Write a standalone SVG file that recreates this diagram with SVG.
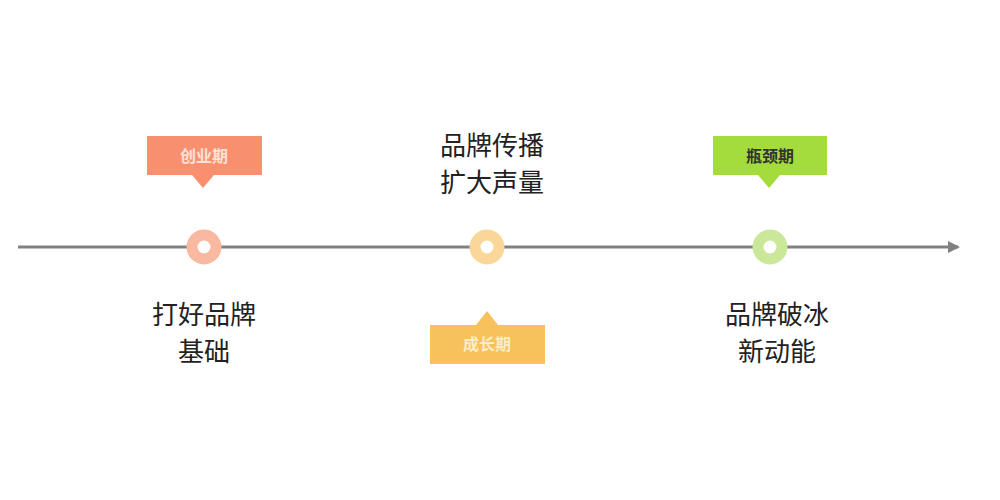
<svg xmlns="http://www.w3.org/2000/svg" width="1000" height="500" viewBox="0 0 1000 500">
<style>
.t{font-family:"Noto Sans CJK SC",sans-serif;font-size:26px;fill:#222;text-anchor:middle}
.tag{font-family:"Noto Sans CJK SC",sans-serif;font-size:16px;text-anchor:middle;font-weight:bold}
.dot{stroke-width:11;fill:#fff}
</style>
<defs><marker id="ar" markerWidth="12" markerHeight="12" refX="10" refY="6" orient="auto" markerUnits="userSpaceOnUse"><path d="M0,0 L12,6 L0,12 Z" fill="#808080"/></marker></defs>
<rect width="1000" height="500" fill="#fff"/>
<g id="connectors"><line x1="18" y1="247" x2="958" y2="247" stroke="#808080" stroke-width="3" marker-end="url(#ar)"/></g>
<g id="stage1">
<circle class="dot" cx="204" cy="247" r="12" stroke="#f9b9a0"/>
<path d="M147,136 H262 V175 H214 L203,188 L192,175 H147 Z" fill="#f8906f"/>
<text class="tag" x="204" y="162" fill="#fde2d8">创业期</text>
<text class="t" x="204" y="324">打好品牌</text>
<text class="t" x="204" y="361">基础</text>
</g>
<g id="stage2">
<circle class="dot" cx="487" cy="247" r="12" stroke="#fbd699"/>
<path d="M430,325 H545 V364 H430 Z M476,325 L487,311 L498,325 Z" fill="#f7c15b"/>
<text class="tag" x="487" y="350" fill="#fdecc8">成长期</text>
<text class="t" x="492" y="155">品牌传播</text>
<text class="t" x="492" y="192">扩大声量</text>
</g>
<g id="stage3">
<circle class="dot" cx="770" cy="247" r="12" stroke="#cbe79a"/>
<path d="M713,136 H827 V175 H780 L769,188 L758,175 H713 Z" fill="#a3dc3c"/>
<text class="tag" x="770" y="162" fill="#333">瓶颈期</text>
<text class="t" x="777" y="324">品牌破冰</text>
<text class="t" x="777" y="361">新动能</text>
</g>
</svg>
